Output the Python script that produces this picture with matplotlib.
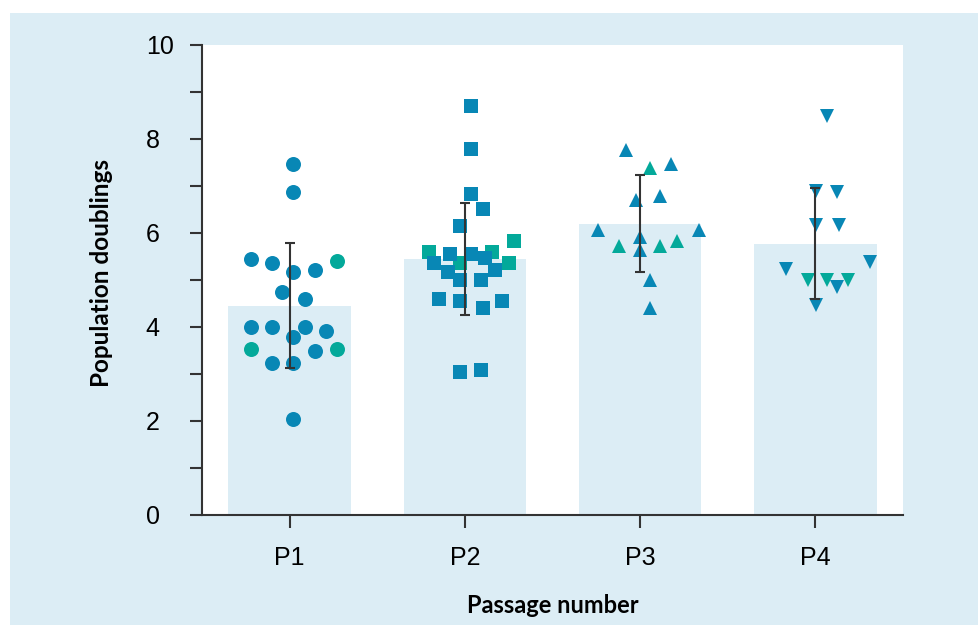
import numpy as np
import matplotlib.pyplot as plt
from matplotlib.patches import Rectangle
from matplotlib.ticker import MultipleLocator

# categories, bar means and SD
passages = ['P1', 'P2', 'P3', 'P4']
means = [4.45, 5.45, 6.20, 5.77]
sds = [1.33, 1.19, 1.03, 1.18]

# individual population doublings per passage (0 = blue donors, 1 = teal donors)
p1_vals = [7.47, 6.87, 5.45, 5.36, 5.17, 5.22, 5.40, 4.74, 4.60, 3.99,
           3.99, 3.99, 3.79, 3.91, 3.53, 3.48, 3.53, 3.23, 3.23, 2.04]
p1_grp = [0, 0, 0, 0, 0, 0, 1, 0, 0, 0, 0, 0, 0, 0, 1, 0, 1, 0, 0, 0]

p2_vals = [8.71, 7.78, 6.84, 6.51, 6.15, 5.84, 5.60, 5.60, 5.55, 5.55, 5.36, 5.36,
           5.36, 5.46, 5.16, 5.21, 4.99, 4.99, 4.60, 4.55, 4.40, 4.55, 3.04, 3.09]
p2_grp = [0, 0, 0, 0, 0, 1, 1, 1, 0, 0, 1, 1, 0, 0, 0, 0, 0, 0, 0, 0, 0, 0, 0, 0]

p3_vals = [7.77, 7.39, 7.46, 6.70, 6.79, 6.06, 6.06, 5.91, 5.73, 5.73, 5.83, 5.64, 5.01, 4.40]
p3_grp = [0, 1, 0, 0, 0, 0, 0, 0, 1, 1, 1, 0, 0, 0]

p4_vals = [8.48, 6.89, 6.88, 6.17, 6.16, 5.38, 5.23, 5.00, 5.00, 5.00, 4.86, 4.47]
p4_grp = [0, 0, 0, 0, 0, 0, 0, 1, 1, 1, 0, 0]

# horizontal scatter (swarm) offsets, in category widths
p1_off = [0.017, 0.017, -0.219, -0.103, 0.017, 0.147, 0.269, -0.042, 0.087, -0.219,
          -0.103, 0.087, 0.017, 0.207, -0.219, 0.147, 0.269, -0.103, 0.017, 0.017]
p2_off = [0.034, 0.034, 0.034, 0.105, -0.025, 0.282, -0.204, 0.156, -0.084, 0.034, 0.253, -0.025,
          -0.179, 0.116, -0.097, 0.173, -0.025, 0.093, -0.145, -0.025, 0.105, 0.213, -0.025, 0.093]
p3_off = [-0.080, 0.057, 0.175, -0.021, 0.113, -0.240, 0.335, -0.002, -0.118, 0.113,
          0.213, -0.002, 0.057, 0.057]
p4_off = [0.067, 0.002, 0.124, 0.002, 0.135, 0.310, -0.167, -0.044, 0.067, 0.187, 0.124, 0.002]

all_vals = [p1_vals, p2_vals, p3_vals, p4_vals]
all_grp = [p1_grp, p2_grp, p3_grp, p4_grp]
all_off = [p1_off, p2_off, p3_off, p4_off]
markers = ['o', 's', '^', 'v']
msizes = [10.8, 10.3, 10.3, 10.3]

bg = '#dcedf5'
blue = '#0887b5'
teal = '#03a99a'
dark = '#333333'

fig = plt.figure(figsize=(9.79, 6.25), dpi=100, facecolor='white')
fig.patches.append(Rectangle((10 / 979, 0), 1, 1 - 13 / 625, transform=fig.transFigure,
                             facecolor=bg, edgecolor='none', zorder=-10))

ax = fig.add_axes([202 / 979, 110 / 625, 701 / 979, 470 / 625])
ax.set_facecolor('white')

x = np.arange(len(passages))
ax.bar(x, means, width=0.7, color=bg, zorder=1)

for i in range(len(passages)):
    vals = np.array(all_vals[i])
    grp = np.array(all_grp[i])
    xs = x[i] + np.array(all_off[i])
    for g, col, zo in [(1, teal, 2), (0, blue, 3)]:
        m = grp == g
        ax.plot(xs[m], vals[m], linestyle='none', marker=markers[i], markersize=msizes[i],
                markerfacecolor=col, markeredgewidth=0, zorder=zo)

ax.errorbar(x, means, yerr=sds, fmt='none', ecolor=dark, elinewidth=1.5,
            capsize=3.5, capthick=1.5, zorder=4)

ax.set_xlim(-0.5, 3.5)
ax.set_ylim(0, 10)
ax.yaxis.set_major_locator(MultipleLocator(2))
ax.yaxis.set_minor_locator(MultipleLocator(1))
ax.set_xticks(x)
ax.set_xticklabels(passages)

for s in ['top', 'right']:
    ax.spines[s].set_visible(False)
for s in ['left', 'bottom']:
    ax.spines[s].set_color(dark)
    ax.spines[s].set_linewidth(1.5)

ax.tick_params(axis='y', which='both', length=9, width=1.5, color=dark, pad=31.5)
ax.tick_params(axis='x', length=9, width=1.5, color=dark, pad=13.5)
for lab in ax.get_yticklabels():
    lab.set_horizontalalignment('left')
for lab in ax.get_xticklabels() + ax.get_yticklabels():
    lab.set_fontfamily('Liberation Sans')
    lab.set_fontsize(18)

ax.set_xlabel('Passage number', fontfamily='Lato', fontweight='bold', fontsize=17, labelpad=17)
ax.set_ylabel('Population doublings', fontfamily='Lato', fontweight='bold', fontsize=17.5)
ax.yaxis.set_label_coords(-0.127, 0.515)

plt.savefig('out.png', dpi=100, facecolor=fig.get_facecolor())
